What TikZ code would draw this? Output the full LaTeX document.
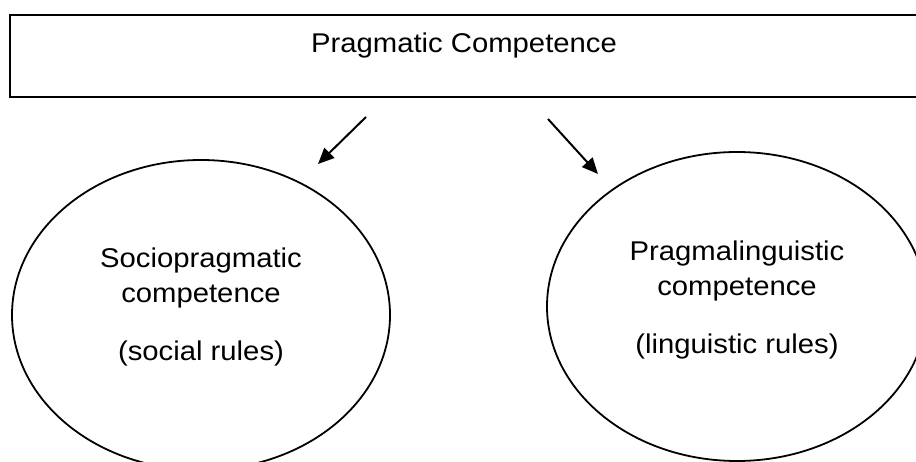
\documentclass[tikz,border=0pt]{standalone}
\usepackage{fontspec}
\setmainfont[FakeStretch=1.08]{Liberation Sans}
\usetikzlibrary{shapes.geometric,arrows.meta}
\begin{document}
\begin{tikzpicture}[x=1pt,y=-1pt,
  labeltext/.style={font=\fontsize{27.1}{35}\selectfont, inner sep=0pt, align=center},
  topbox/.style={draw, line width=2.2pt, minimum width=924pt, minimum height=82pt, inner sep=0pt},
  bubble/.style={draw, ellipse, line width=1.8pt, inner sep=0pt},
  pointer/.style={line width=2pt, -{Triangle[length=16pt,width=14pt]}}]
  \useasboundingbox (0,0) rectangle (916,462);
  \clip (0,0) rectangle (916,462);
  % heading box, running past the right edge
  \node[topbox] (box) at (472,56) {};
  \node[labeltext, anchor=base] (title) at (464,53) {Pragmatic Competence};
  % the two sub-competences
  \node[bubble, minimum width=378pt, minimum height=310pt] (socio) at (201,315) {};
  \node[labeltext] (sociotext) at (201,306.5) {Sociopragmatic\\competence\\[23pt](social rules)};
  \node[bubble, minimum width=380pt, minimum height=309pt] (pragma) at (737,306.5) {};
  \node[labeltext] (pragmatext) at (737,299.5) {Pragmalinguistic\\competence\\[23pt](linguistic rules)};
  % arrows from the heading towards each ellipse
  \coordinate (ls) at (366,117);
  \coordinate (le) at (318,164);
  \coordinate (rs) at (548,119);
  \coordinate (re) at (598,174);
  \draw[pointer] (ls) -- (le);
  \draw[pointer] (rs) -- (re);
\end{tikzpicture}
\end{document}
